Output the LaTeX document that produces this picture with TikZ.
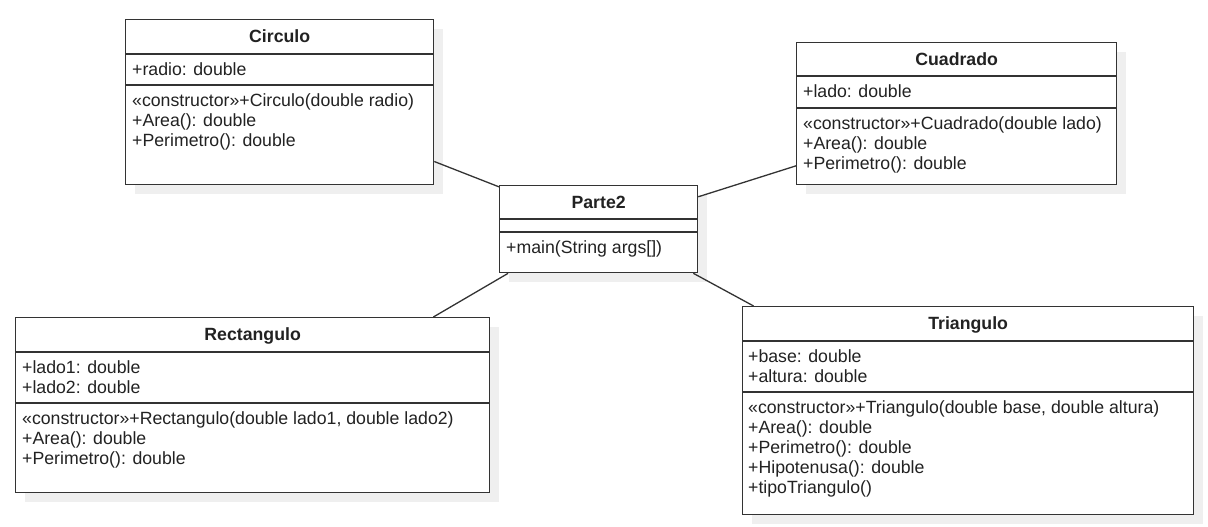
\documentclass[tikz,border=0pt]{standalone}
\usepackage{fontspec}
\setmainfont{Liberation Sans}
\usetikzlibrary{shadows}
\definecolor{umlline}{HTML}{333333}
\definecolor{umltext}{HTML}{222222}
\definecolor{umlshadow}{HTML}{EFEFEF}
\newcommand{\umlfont}{\fontsize{17.7}{20}\selectfont}
\tikzset{
  classbox/.style={draw=umlline, line width=1.3pt, fill=white, anchor=north west,
    inner sep=0pt, drop shadow={shadow xshift=9pt, shadow yshift=-9pt, fill=umlshadow, opacity=1}},
  classname/.style={font=\umlfont\bfseries, text=umltext, inner sep=0pt, text height=12.7pt, text depth=0pt},
  members/.style={anchor=north west, align=left, inner sep=0pt, text=umltext},
  divider/.style={draw=umlline, line width=1.3pt},
  assoc/.style={draw=umlline, line width=1.3pt},
}
\begin{document}
\begin{tikzpicture}[x=1pt, y=-1pt, font=\umlfont]
      \useasboundingbox (0,0) rectangle (1208,527);
      % classes
      \node[classbox, minimum width=308pt, minimum height=165pt] (circulo) at (125,19) {};
      \node[classbox, minimum width=320pt, minimum height=142pt] (cuadrado) at (796,42) {};
      \node[classbox, minimum width=198pt, minimum height=87pt] (parte2) at (499,185) {};
      \node[classbox, minimum width=474pt, minimum height=175pt] (rectangulo) at (15,317) {};
      \node[classbox, minimum width=451pt, minimum height=208pt] (triangulo) at (742,306) {};
      % Circulo
      \node[classname] (circulo-name) at ([yshift=-17.5pt]circulo.north) {Circulo};
      \draw[divider] ([yshift=-35pt]circulo.north west) -- ([yshift=-35pt]circulo.north east);
      \draw[divider] ([yshift=-66pt]circulo.north west) -- ([yshift=-66pt]circulo.north east);
      \node[members] (circulo-attr) at ([xshift=7pt,yshift=-43pt]circulo.north west) {+radio: double};
      \node[members] (circulo-ops) at ([xshift=7pt,yshift=-74pt]circulo.north west)
        {«constructor»+Circulo(double radio)\\+Area(): double\\+Perimetro(): double};
      % Cuadrado
      \node[classname] (cuadrado-name) at ([yshift=-17pt]cuadrado.north) {Cuadrado};
      \draw[divider] ([yshift=-34pt]cuadrado.north west) -- ([yshift=-34pt]cuadrado.north east);
      \draw[divider] ([yshift=-66pt]cuadrado.north west) -- ([yshift=-66pt]cuadrado.north east);
      \node[members] (cuadrado-attr) at ([xshift=7pt,yshift=-42pt]cuadrado.north west) {+lado: double};
      \node[members] (cuadrado-ops) at ([xshift=7pt,yshift=-74pt]cuadrado.north west)
        {«constructor»+Cuadrado(double lado)\\+Area(): double\\+Perimetro(): double};
      % Parte2
      \node[classname] (parte2-name) at ([yshift=-17pt]parte2.north) {Parte2};
      \draw[divider] ([yshift=-34pt]parte2.north west) -- ([yshift=-34pt]parte2.north east);
      \draw[divider] ([yshift=-47pt]parte2.north west) -- ([yshift=-47pt]parte2.north east);
      \node[members] (parte2-ops) at ([xshift=7pt,yshift=-55pt]parte2.north west) {+main(String args[])};
      % Rectangulo
      \node[classname] (rectangulo-name) at ([yshift=-17.5pt]rectangulo.north) {Rectangulo};
      \draw[divider] ([yshift=-35pt]rectangulo.north west) -- ([yshift=-35pt]rectangulo.north east);
      \draw[divider] ([yshift=-86pt]rectangulo.north west) -- ([yshift=-86pt]rectangulo.north east);
      \node[members] (rectangulo-attr) at ([xshift=7pt,yshift=-43pt]rectangulo.north west)
        {+lado1: double\\+lado2: double};
      \node[members] (rectangulo-ops) at ([xshift=7pt,yshift=-94pt]rectangulo.north west)
        {«constructor»+Rectangulo(double lado1, double lado2)\\+Area(): double\\+Perimetro(): double};
      % Triangulo
      \node[classname] (triangulo-name) at ([yshift=-17.5pt]triangulo.north) {Triangulo};
      \draw[divider] ([yshift=-35pt]triangulo.north west) -- ([yshift=-35pt]triangulo.north east);
      \draw[divider] ([yshift=-86pt]triangulo.north west) -- ([yshift=-86pt]triangulo.north east);
      \node[members] (triangulo-attr) at ([xshift=6pt,yshift=-43pt]triangulo.north west)
        {+base: double\\+altura: double};
      \node[members] (triangulo-ops) at ([xshift=6pt,yshift=-94pt]triangulo.north west)
        {«constructor»+Triangulo(double base, double altura)\\+Area(): double\\+Perimetro(): double\\+Hipotenusa(): double\\+tipoTriangulo()};
      % associations
      \begin{scope}[-]
        \draw[assoc] (circulo.-21.8) to (parte2.157.8);
        \draw[assoc] (cuadrado.198) to (parte2.18.7);
        \draw[assoc] (rectangulo.26.4) to (parte2.206.05);
        \draw[assoc] (triangulo.154.13) to (parte2.-25.1);
      \end{scope}
    \end{tikzpicture}
\end{document}
